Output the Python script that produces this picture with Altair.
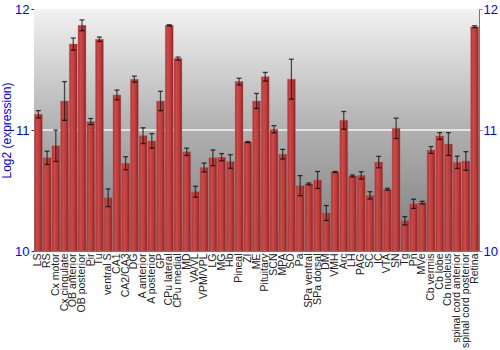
import altair as alt
import pandas as pd

categories = [
    "LS", "RS", "Cx motor", "Cx cingulate", "OB anterior", "OB posterior", "Pir", "Tu",
    "ventral S", "CA1", "CA2/CA3", "DG", "A anterior", "A posterior", "GP", "CPu lateral",
    "CPu medial", "MD", "VA/VL", "VPM/VPL", "LG", "MG", "Hb", "Pineal", "ZI", "ME",
    "Pituitary", "SCN", "MPA", "SO", "Pa", "SPa ventral", "SPa dorsal", "DM", "VMH", "Arc",
    "LH", "PAG", "SC", "IC", "VTA", "SN", "Tg", "Pn", "MVe", "Cb vermis", "Cb lobe",
    "Cb nucleus", "spinal cord anterior", "spinal cord posterior", "Retina",
]
values = [
    11.13, 10.77, 10.87, 11.24, 11.71, 11.865, 11.07, 11.75,
    10.44, 11.29, 10.725, 11.42, 10.953, 10.91, 11.24, 11.865,
    11.59, 10.82, 10.49, 10.69, 10.77, 10.775, 10.74, 11.40, 10.90, 11.24,
    11.44, 11.006, 10.80, 11.42, 10.54, 10.554, 10.587, 10.314, 10.653, 11.08,
    10.62, 10.625, 10.46, 10.735, 10.51, 11.014, 10.25, 10.39, 10.40, 10.835, 10.95,
    10.884, 10.733, 10.744, 11.854,
]
errors = [
    0.03, 0.055, 0.13, 0.16, 0.05, 0.045, 0.025, 0.018,
    0.073, 0.04, 0.054, 0.025, 0.065, 0.06, 0.08, 0.005,
    0.012, 0.03, 0.045, 0.037, 0.065, 0.03, 0.056, 0.028, 0.004, 0.062,
    0.036, 0.03, 0.04, 0.165, 0.083, 0.008, 0.07, 0.062, 0.004, 0.073,
    0.008, 0.03, 0.03, 0.047, 0.008, 0.084, 0.034, 0.038, 0.011, 0.028, 0.028,
    0.094, 0.051, 0.077, 0.008,
]

df = pd.DataFrame({"region": categories, "value": values, "err": errors})
df["lo"] = df["value"] - df["err"]
df["hi"] = df["value"] + df["err"]

yscale = alt.Scale(domain=[10, 12], zero=False, nice=False)
xenc = alt.X(
    "region:N", sort=categories, title=None,
    scale=alt.Scale(paddingInner=0.1, paddingOuter=0.05),
    axis=alt.Axis(labelAngle=-90, labelFontSize=10.5, labelColor="#222222",
                  labelFont="Liberation Sans", ticks=False, domain=False, labelPadding=2),
)
one = pd.DataFrame({"a": [0]})

common_axis = dict(tickCount=2, format="d", labelOverlap=False, labelFlush=False,
                   labelColor="#0000ff", labelFontSize=13, labelFont="Liberation Sans",
                   grid=False, domain=False, tickSize=3)

bg = alt.Chart(one).mark_rect(
    fill=alt.LinearGradient(
        gradient="linear", x1=0, y1=0, x2=0, y2=1,
        stops=[alt.GradientStop(offset=0, color="#f2f2f2"),
               alt.GradientStop(offset=0.5, color="#b0b0b0"),
               alt.GradientStop(offset=1, color="#7c7c7c")],
    )
).encode(
    y=alt.Y(datum=12, scale=yscale, type="quantitative", axis=None),
    y2=alt.Y2(datum=10),
)

grid = alt.Chart(one).mark_rule(color="#f4f4f4", strokeWidth=1.5).encode(
    y=alt.Y(datum=11, type="quantitative", scale=yscale, axis=None)
)

bars = alt.Chart(df).mark_bar(
    fill=alt.LinearGradient(
        gradient="linear", x1=0, y1=0, x2=1, y2=0,
        stops=[alt.GradientStop(offset=0, color="#a83030"),
               alt.GradientStop(offset=0.3, color="#cc4a4a"),
               alt.GradientStop(offset=0.7, color="#b63a3a"),
               alt.GradientStop(offset=1, color="#842020")],
    ),
    stroke="#c86060", strokeWidth=0.6, strokeOpacity=0.6,
).encode(
    x=xenc,
    y=alt.Y("value:Q", scale=yscale,
            axis=alt.Axis(orient="left", title="Log2 (expression)", titleColor="#0000ff",
                          titleFontSize=12, titleFontWeight="normal",
                          titleFont="Liberation Sans", tickColor="#333333",
                          labelPadding=2, titlePadding=1, **common_axis)),
    y2=alt.Y2(datum=10),
)

rules = alt.Chart(df).mark_rule(color="#111111", opacity=0.7, strokeWidth=1.3).encode(
    x=alt.X("region:N", sort=categories),
    y=alt.Y("lo:Q", scale=yscale, axis=None),
    y2="hi:Q",
)
cap_lo = alt.Chart(df).mark_tick(color="#000000", size=5, thickness=1.3).encode(
    x=alt.X("region:N", sort=categories),
    y=alt.Y("lo:Q", scale=yscale, axis=None),
)
cap_hi = alt.Chart(df).mark_tick(color="#000000", size=5, thickness=1.3).encode(
    x=alt.X("region:N", sort=categories),
    y=alt.Y("hi:Q", scale=yscale,
            axis=alt.Axis(orient="right", title=None, tickColor="#888888",
                          labelPadding=1, **common_axis)),
)

chart = alt.layer(bg, grid, bars, rules, cap_lo, cap_hi).resolve_axis(
    y="independent"
).properties(
    width=445, height=242,
    padding={"left": 34, "top": 9, "right": 21, "bottom": 99},
    autosize="none",
    background="white",
).configure_view(stroke="#777777", strokeWidth=1)

chart.save("out.html", embed_options={"renderer": "svg", "actions": False})
